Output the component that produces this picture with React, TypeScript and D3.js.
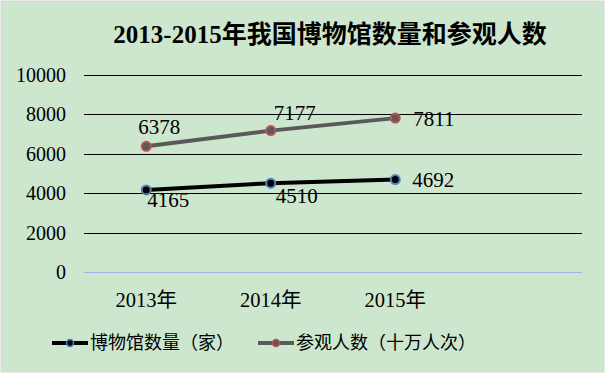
import React, { useEffect, useRef } from 'react'
import * as d3 from 'd3'

const categories = ['2013年', '2014年', '2015年']
const museumCount = [4165, 4510, 4692]
const visitors = [6378, 7177, 7811]
const yTicks = [0, 2000, 4000, 6000, 8000, 10000]
const seriesNames = ['博物馆数量（家）', '参观人数（十万人次）']

const W = 606
const H = 375
const serif = '"Liberation Serif", "Times New Roman", "Noto Sans CJK SC", serif'
const cjk = '"Noto Sans CJK SC", sans-serif'

const App = () => {
  const svgRef = useRef(null)

  useEffect(() => {
    const svg = d3.select(svgRef.current)
    svg.selectAll('*').remove()

    // background panel
    svg
      .append('rect')
      .attr('x', 1)
      .attr('y', 1)
      .attr('width', W - 3)
      .attr('height', H - 4)
      .attr('fill', '#cde7ce')
      .attr('stroke', '#d6d6d6')

    const left = 84
    const right = 582
    // one empty slot after the last year, like the original
    const x = d3.scaleLinear().domain([-0.5, categories.length + 0.5]).range([left, right])
    const y = d3.scaleLinear().domain([0, 10000]).range([272, 75])

    // grid
    svg
      .append('g')
      .selectAll('line')
      .data(yTicks)
      .enter()
      .append('line')
      .attr('x1', left)
      .attr('x2', right)
      .attr('y1', d => Math.round(y(d)) + 0.5)
      .attr('y2', d => Math.round(y(d)) + 0.5)
      .attr('stroke', d => (d === 0 ? '#9db5e6' : '#000'))
      .attr('stroke-width', 1)

    svg
      .append('g')
      .selectAll('text')
      .data(yTicks)
      .enter()
      .append('text')
      .attr('x', 66)
      .attr('y', d => y(d) + 7)
      .attr('text-anchor', 'end')
      .style('font-family', serif)
      .style('font-size', '20px')
      .text(d => d)

    svg
      .append('g')
      .selectAll('text')
      .data(categories)
      .enter()
      .append('text')
      .attr('x', (d, i) => x(i))
      .attr('y', 307)
      .attr('text-anchor', 'middle')
      .style('font-family', serif)
      .style('font-size', '20.5px')
      .text(d => d)

    // title
    svg
      .append('text')
      .attr('x', 330)
      .attr('y', 43)
      .attr('text-anchor', 'middle')
      .style('font-family', serif)
      .style('font-size', '25px')
      .style('font-weight', 'bold')
      .text('2013-2015年我国博物馆数量和参观人数')

    const series = [
      { values: museumCount, line: '#000', fill: '#000', ring: '#4f81bd' },
      { values: visitors, line: '#5a5a5a', fill: '#5a5a5a', ring: '#c0504d' }
    ]

    const line = d3
      .line()
      .x((d, i) => x(i))
      .y(d => y(d))

    series.forEach(s => {
      svg
        .append('path')
        .attr('d', line(s.values))
        .attr('fill', 'none')
        .attr('stroke', s.line)
        .attr('stroke-width', 4)
      svg
        .append('g')
        .selectAll('circle')
        .data(s.values)
        .enter()
        .append('circle')
        .attr('cx', (d, i) => x(i))
        .attr('cy', d => y(d))
        .attr('r', 4.5)
        .attr('fill', s.fill)
        .attr('stroke', s.ring)
        .attr('stroke-width', 2)
    })

    // data labels: offsets per point as in the original
    const museumOff = [
      [1, 17],
      [5, 20],
      [17, 7]
    ]
    const visitorOff = [
      [-8, -12],
      [3, -11],
      [18, 8]
    ]
    const labels = (vals, offs) =>
      svg
        .append('g')
        .selectAll('text')
        .data(vals)
        .enter()
        .append('text')
        .attr('x', (d, i) => x(i) + offs[i][0])
        .attr('y', (d, i) => y(d) + offs[i][1])
        .style('font-family', serif)
        .style('font-size', '21px')
        .text(d => d)
    labels(museumCount, museumOff)
    labels(visitors, visitorOff)

    // legend
    const legendX = [52, 258]
    series.forEach((s, i) => {
      const g = svg.append('g').attr('transform', `translate(${legendX[i]},343)`)
      g.append('line')
        .attr('x1', 0)
        .attr('x2', 36)
        .attr('stroke', s.line)
        .attr('stroke-width', 4)
      g.append('circle')
        .attr('cx', 18)
        .attr('r', 3.5)
        .attr('fill', s.fill)
        .attr('stroke', s.ring)
        .attr('stroke-width', 1.5)
      g.append('text')
        .attr('x', 38)
        .attr('y', 6)
        .style('font-family', cjk)
        .style('font-size', '18px')
        .text(seriesNames[i])
    })
  }, [])

  return (
    <svg
      ref={svgRef}
      width={W}
      height={H}
      style={{ position: 'absolute', left: 0, top: 0, background: '#fff' }}
    ></svg>
  )
}

export default App
